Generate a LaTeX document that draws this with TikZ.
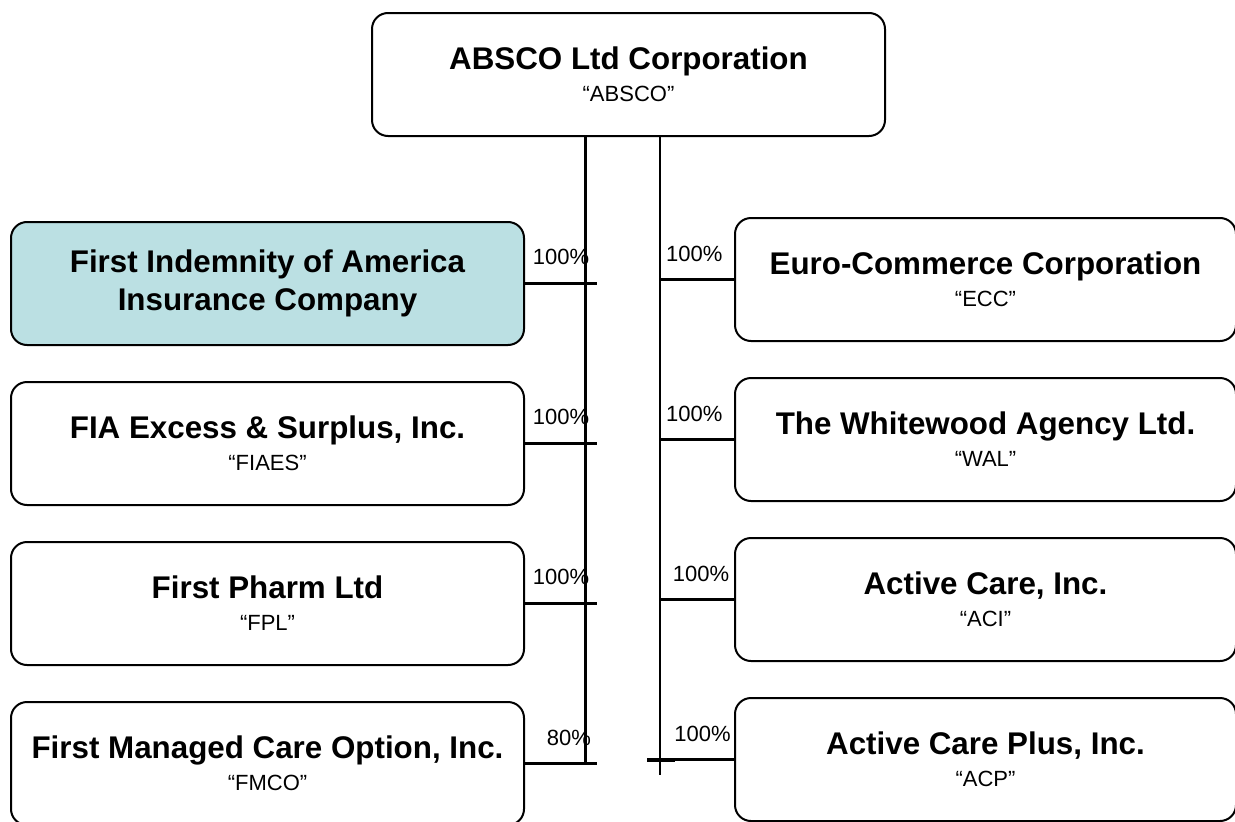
\documentclass[tikz,border=0pt]{standalone}
\usepackage{fontspec}
\setmainfont{Liberation Sans}
\usepackage{tikz}
\definecolor{fiablue}{RGB}{187, 224, 227}
\newcommand{\nick}[1]{{\mdseries\fontsize{16.5}{19}\selectfont #1}}

\begin{document}
\begin{tikzpicture}[x=0.75pt, y=-0.75pt,
    firm/.style={draw, line width=1.5pt, rounded corners=12pt, minimum width=384.75pt,
                 minimum height=92.25pt, inner sep=0pt, align=center,
                 font=\fontsize{23.5}{24}\selectfont\bfseries},
    subfirm/.style={firm, minimum width=375.75pt},
    link/.style={line width=2.2pt},
    pct/.style={inner sep=0pt, font=\fontsize{16.5}{19}\selectfont}]
\useasboundingbox (0,0) rectangle (1235,821);

% parent
\node[firm] (absco) at (628.5,74.5) {ABSCO Ltd Corporation\\ \nick{“ABSCO”}};

% left column
\node[firm, fill=fiablue] (fia) at (267.5,283.5) {First Indemnity of America\\[4pt]Insurance Company};
\node[firm] (fiaes) at (267.5,443.5) {FIA Excess \& Surplus, Inc.\\ \nick{“FIAES”}};
\node[firm] (fpl) at (267.5,603.5) {First Pharm Ltd\\ \nick{“FPL”}};
\node[firm] (fmco) at (267.5,763.5) {First Managed Care Option, Inc.\\ \nick{“FMCO”}};

% right column
\node[subfirm] (ecc) at (985.5,279.5) {Euro-Commerce Corporation\\ \nick{“ECC”}};
\node[subfirm] (wal) at (985.5,439.5) {The Whitewood Agency Ltd.\\ \nick{“WAL”}};
\node[subfirm] (aci) at (985.5,599.5) {Active Care, Inc.\\ \nick{“ACI”}};
\node[subfirm] (acp) at (985.5,759.5) {Active Care Plus, Inc.\\ \nick{“ACP”}};

% buses
\coordinate (lbus) at (585.5,763);
\coordinate (ltick) at (597,763);
\coordinate (rbus) at (660,775);
\coordinate (rtick) at (647,763);
\draw[link] (absco.south -| lbus) -- (lbus);
\draw[link] (absco.south -| rbus) -- (rbus);

% ownership links
\draw[link] (fia.east) -- node[pct, above=13pt] {100\%} (ltick |- fia.east);
\draw[link] (fiaes.east) -- node[pct, above=13pt] {100\%} (ltick |- fiaes.east);
\draw[link] (fpl.east) -- node[pct, above=13pt] {100\%} (ltick |- fpl.east);
\draw[link] (fmco.east) -- node[pct, above=12pt, xshift=6pt] {80\%} (ltick |- fmco.east);

\draw[link] (rbus |- ecc.west) -- node[pct, above=12pt, xshift=-2pt] {100\%} (ecc.west);
\draw[link] (rbus |- wal.west) -- node[pct, above=12pt, xshift=-2pt] {100\%} (wal.west);
\draw[link] (rbus |- aci.west) -- node[pct, above=12pt, xshift=3pt] {100\%} (aci.west);
\draw[link] (rtick |- acp.west) -- node[pct, above=12pt, xshift=9pt] {100\%} (acp.west);
\draw[link, line width=3pt] (rtick |- acp.west) -- ++(28,0);
\end{tikzpicture}
\end{document}
